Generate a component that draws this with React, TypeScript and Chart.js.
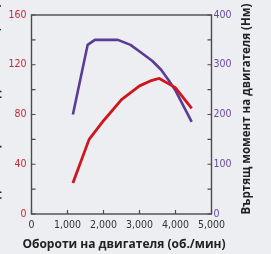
import React, { useEffect, useRef } from "react";
import { Chart, registerables } from "chart.js";

Chart.register(...registerables);

const powerRpm = [1150, 1600, 2000, 2500, 3000, 3300, 3550, 3850, 4000, 4450];
const powerKw = [25, 60, 75, 92, 103, 107, 109, 104, 101.5, 85];
const torqueRpm = [1150, 1560, 1760, 2400, 2750, 3050, 3350, 3600, 3800, 4000, 4450];
const torqueNm = [200, 340, 350, 350, 340, 324, 308, 290, 270, 248, 185];

const xTickValues = [0, 1000, 2000, 3000, 4000, 5000];
const leftTickValues = [0, 40, 80, 120, 160];
const rightTickValues = [0, 100, 200, 300, 400];

const xTitle = "Обороти на двигателя (об./мин)";
const leftTitle = "Изходна мощност на двигателя (кВт)";
const rightTitle = "Въртящ момент на двигателя (Нм)";

const RED = "#d0161d";
const PURPLE = "#5c3b97";
const FRAME = "#4d4a4a";
const BG = "#eceef1";
const TICK_FONT = "'Liberation Sans Narrow', 'DejaVu Sans Condensed', sans-serif";
const TITLE_FONT = "'Open Sans', 'DejaVu Sans', sans-serif";

const fmt = (v: number) => (v >= 1000 ? `${Math.floor(v / 1000)},${String(v % 1000).padStart(3, "0")}` : String(v));

export default function App() {
  const ref = useRef<HTMLCanvasElement | null>(null);

  useEffect(() => {
    document.body.style.margin = "0";
    const canvas = ref.current;
    if (!canvas) return;

    const decor = {
      id: "decor",
      beforeDraw(chart: any) {
        const { ctx } = chart;
        ctx.save();
        ctx.fillStyle = BG;
        ctx.fillRect(0, 0, chart.width, chart.height);
        ctx.restore();
      },
      afterDraw(chart: any) {
        const { ctx, chartArea } = chart;
        const { left, right, top, bottom } = chartArea;
        const xs = chart.scales.x;
        const yl = chart.scales.y;
        const yr = chart.scales.y1;
        ctx.save();
        ctx.strokeStyle = FRAME;
        ctx.lineWidth = 1.4;
        ctx.strokeRect(left, top, right - left, bottom - top);
        ctx.lineWidth = 1.2;
        ctx.beginPath();
        for (let v = 0; v <= 160; v += 20) {
          const y = yl.getPixelForValue(v);
          ctx.moveTo(left, y);
          ctx.lineTo(left + 4, y);
        }
        for (let v = 0; v <= 400; v += 50) {
          const y = yr.getPixelForValue(v);
          ctx.moveTo(right, y);
          ctx.lineTo(right - 4, y);
        }
        for (const v of xTickValues) {
          const x = xs.getPixelForValue(v);
          ctx.moveTo(x, bottom);
          ctx.lineTo(x, bottom - 4);
        }
        ctx.stroke();

        ctx.fillStyle = "#222";
        ctx.font = `bold 12px ${TITLE_FONT}`;
        ctx.textAlign = "center";
        ctx.textBaseline = "middle";
        ctx.fillText(xTitle, 124, 245);

        ctx.save();
        ctx.font = `bold 11.5px ${TITLE_FONT}`;
        ctx.translate(247, 109);
        ctx.rotate(-Math.PI / 2);
        ctx.fillText(rightTitle, 0, 0);
        ctx.restore();

        ctx.save();
        ctx.font = `bold 11.5px ${TITLE_FONT}`;
        ctx.translate(-4.5, 116);
        ctx.rotate(-Math.PI / 2);
        ctx.fillText(leftTitle, 0, 0);
        ctx.restore();
        ctx.restore();
      },
    };

    const chart = new Chart(canvas, {
      type: "line",
      data: {
        datasets: [
          {
            label: "power",
            data: powerRpm.map((x, i) => ({ x, y: powerKw[i] })),
            borderColor: RED,
            borderWidth: 2.8,
            pointRadius: 0,
            tension: 0,
            yAxisID: "y",
            borderJoinStyle: "round",
          },
          {
            label: "torque",
            data: torqueRpm.map((x, i) => ({ x, y: torqueNm[i] })),
            borderColor: PURPLE,
            borderWidth: 2.6,
            pointRadius: 0,
            tension: 0,
            yAxisID: "y1",
            borderJoinStyle: "round",
          },
        ],
      },
      options: {
        responsive: true,
        maintainAspectRatio: false,
        animation: false,
        layout: { padding: { top: 15, left: 0, right: 0, bottom: 0 } },
        plugins: { legend: { display: false }, tooltip: { enabled: false }, title: { display: false } },
        scales: {
          x: {
            type: "linear",
            min: 0,
            max: 5000,
            afterBuildTicks: (s: any) => { s.ticks = xTickValues.map((value) => ({ value })); },
            afterFit: (s: any) => { s.height = 40; },
            grid: { display: false, drawTicks: false },
            border: { display: false },
            ticks: { padding: 5, color: "#333", font: { family: TICK_FONT, size: 10.5 }, callback: (v: any) => fmt(Number(v)), maxRotation: 0, autoSkip: false },
          },
          y: {
            type: "linear",
            position: "left",
            min: 0,
            max: 160,
            afterBuildTicks: (s: any) => { s.ticks = leftTickValues.map((value) => ({ value })); },
            afterFit: (s: any) => { s.width = 31.5; },
            grid: { display: false, drawTicks: false },
            border: { display: false },
            ticks: { padding: 5, color: "#c8283a", font: { family: TICK_FONT, size: 10.5 } },
          },
          y1: {
            type: "linear",
            position: "right",
            min: 0,
            max: 400,
            afterBuildTicks: (s: any) => { s.ticks = rightTickValues.map((value) => ({ value })); },
            afterFit: (s: any) => { s.width = 59.5; },
            grid: { display: false, drawTicks: false },
            border: { display: false },
            ticks: { padding: 2, color: "#6a4a9e", font: { family: TICK_FONT, size: 10.5 } },
          },
        },
      },
      plugins: [decor],
    } as any);

    return () => chart.destroy();
  }, []);

  return (
    <div style={{ position: "relative", width: 271, height: 254 }}>
      <canvas ref={ref} />
    </div>
  );
}
